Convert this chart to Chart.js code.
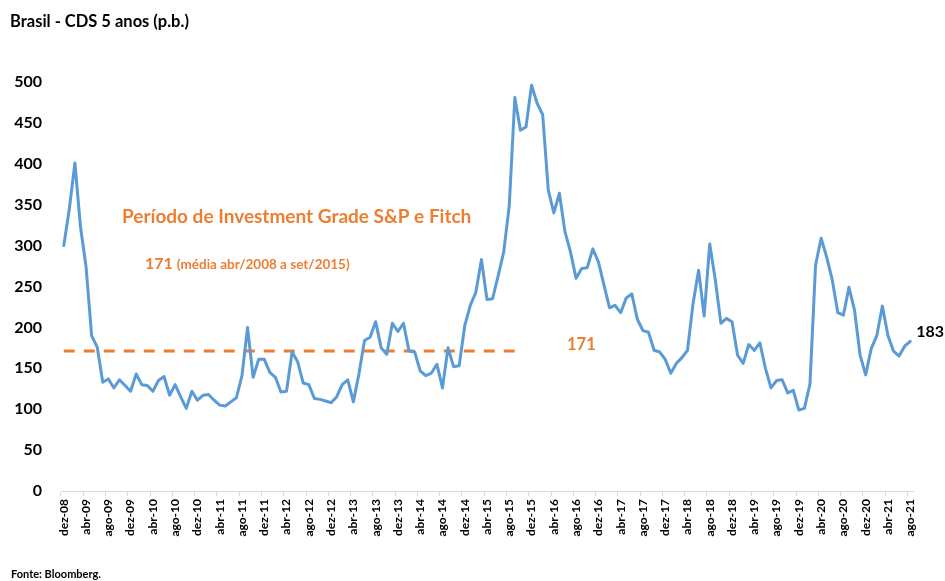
<!DOCTYPE html>
<html><head><meta charset="utf-8">
<script src="https://cdn.jsdelivr.net/npm/chart.js@4/dist/chart.umd.min.js"></script>
<style>html,body{margin:0;padding:0;background:#fff;}#wrap{position:relative;width:945px;height:581px;}</style>
</head><body><div id="wrap"><canvas id="c" width="945" height="581"></canvas></div>
<script>
// ---- data ----
const monthNames = ['jan','fev','mar','abr','mai','jun','jul','ago','set','out','nov','dez'];
const firstMonth = { month: 11, year: 2008 };   // dez-08
const cds5y = [
  300,345,401,323,274,190,176,133,137,126,136,129,122,143,130,129,122,135,140,117,
  130,115,101,122,111,117,118,111,105,104,109,114,141,200,139,161,161,145,139,121,
  122,170,158,132,130,113,112,110,108,115,130,136,109,143,184,188,207,175,167,205,
  195,205,171,170,147,141,144,155,126,175,152,153,202,227,243,283,234,235,263,292,
  349,481,441,445,496,474,460,368,340,364,317,292,260,272,273,296,280,252,224,227,
  218,236,241,210,196,194,172,170,161,144,156,163,172,229,270,214,302,258,205,211,
  207,166,156,179,172,181,150,126,135,136,120,123,99,101,131,276,309,286,258,218,
  215,249,221,166,142,174,190,226,190,171,165,177,183
];
const tickLabels = ['dez-08','abr-09','ago-09','dez-09','abr-10','ago-10','dez-10','abr-11','ago-11','dez-11',
  'abr-12','ago-12','dez-12','abr-13','ago-13','dez-13','abr-14','ago-14','dez-14','abr-15','ago-15','dez-15',
  'abr-16','ago-16','dez-16','abr-17','ago-17','dez-17','abr-18','ago-18','dez-18','abr-19','ago-19','dez-19',
  'abr-20','ago-20','dez-20','abr-21','ago-21'];
const yTicks = [0,50,100,150,200,250,300,350,400,450,500];
const avgValue = 171;
const avgFrom = 'dez-08', avgTo = 'set-15';
const lastValueLabel = '183';

// ---- derived ----
const categories = cds5y.map((_, i) => {
  const m = (firstMonth.month + i) % 12;
  const y = firstMonth.year + Math.floor((firstMonth.month + i) / 12);
  return monthNames[m] + '-' + String(y % 100).padStart(2, '0');
});
const iFrom = categories.indexOf(avgFrom), iTo = categories.indexOf(avgTo);
const avgLine = categories.map((c, i) => (i >= iFrom && i <= iTo) ? avgValue : null);

const ORANGE = '#ED7D31', BLUE = '#5B9BD5';
const FONT = 'Lato';

const textPlugin = {
  id: 'texts',
  afterDraw(chart) {
    const ctx = chart.ctx, xs = chart.scales.x, ys = chart.scales.y;
    ctx.save();
    ctx.textBaseline = 'middle';
    ctx.textAlign = 'left';
    ctx.fillStyle = '#000';
    ctx.font = `bold 16.5px ${FONT}`;
    ctx.fillText('Brasil - CDS 5 anos (p.b.)', 10, 22);
    ctx.font = `bold 11px ${FONT}`;
    ctx.fillText('Fonte: Bloomberg.', 11, 574);
    // last value
    const lastI = cds5y.length - 1;
    ctx.font = `bold 16px ${FONT}`;
    ctx.fillText(lastValueLabel, xs.getPixelForValue(lastI) + 6, ys.getPixelForValue(cds5y[lastI]) - 9);
    // orange annotations
    ctx.fillStyle = ORANGE;
    ctx.font = `bold 19px ${FONT}`;
    ctx.fillText('Período de Investment Grade S&P e Fitch', 122, 217);
    ctx.font = `bold 16px ${FONT}`;
    ctx.fillText(String(avgValue), 145, 264);
    const w = ctx.measureText(String(avgValue)).width;
    ctx.font = `bold 13.5px ${FONT}`;
    ctx.fillText('(média abr/2008 a set/2015)', 145 + w + 4, 265);
    ctx.font = `bold 16.5px ${FONT}`;
    ctx.fillText(String(avgValue), 567, ys.getPixelForValue(avgValue) - 6);
    ctx.restore();
  }
};

new Chart(document.getElementById('c'), {
  type: 'line',
  data: {
    labels: categories,
    datasets: [
      { data: cds5y, borderColor: BLUE, borderWidth: 3, pointRadius: 0, tension: 0,
        borderJoinStyle: 'round', borderCapStyle: 'round', order: 1 },
      { data: avgLine, borderColor: ORANGE, borderWidth: 3, pointRadius: 0, tension: 0,
        borderDash: [11, 9], borderCapStyle: 'butt', spanGaps: false, order: 2 }
    ]
  },
  options: {
    responsive: false, animation: false, devicePixelRatio: 1,
    layout: { padding: { top: 82, right: 32, left: 0, bottom: 0 } },
    plugins: { legend: { display: false }, tooltip: { enabled: false }, title: { display: false } },
    scales: {
      x: {
        type: 'category', offset: true,
        grid: {
          offset: true, drawOnChartArea: false, drawTicks: true, tickLength: 5, lineWidth: 1,
          color: (c) => tickLabels.includes(categories[c.index]) ? '#d9d9d9' : 'rgba(0,0,0,0)'
        },
        border: { display: true, color: '#d9d9d9', width: 1 },
        ticks: {
          autoSkip: false, maxRotation: 90, minRotation: 90, padding: 3, color: '#000',
          font: { family: FONT, weight: 'bold', size: 12 },
          callback: (v, i) => tickLabels.includes(categories[i]) ? categories[i] : ''
        },
        afterFit: (s) => { s.height = 90; s.paddingLeft = 0; s.paddingRight = 0; }
      },
      y: {
        min: 0, max: 500,
        afterBuildTicks: (s) => { s.ticks = yTicks.map(v => ({ value: v })); },
        grid: { display: false, drawTicks: false },
        border: { display: false },
        ticks: { padding: 19, color: '#000', font: { family: FONT, weight: 'bold', size: 16 } },
        afterFit: (s) => { s.width = 61; s.paddingTop = 0; s.paddingBottom = 0; }
      }
    }
  },
  plugins: [textPlugin]
});
</script></body></html>
